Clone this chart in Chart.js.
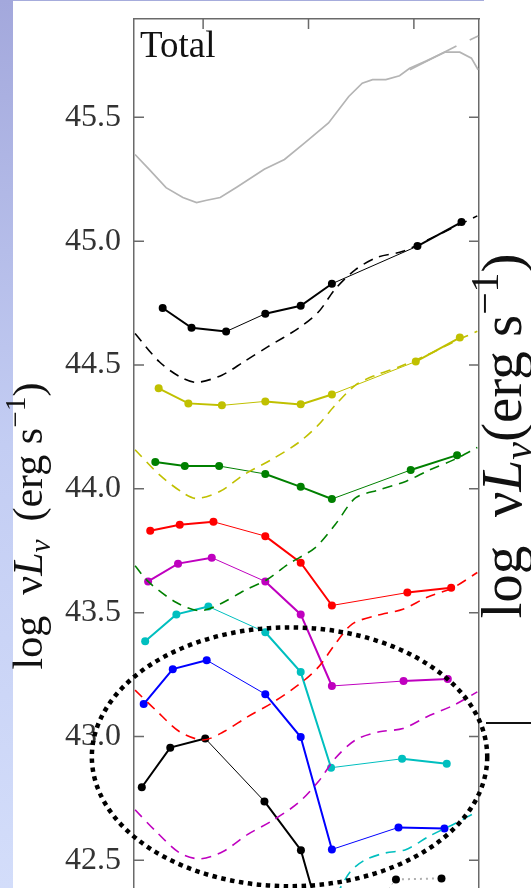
<!DOCTYPE html>
<html>
<head>
<meta charset="utf-8">
<script src="https://cdn.jsdelivr.net/npm/chart.js@4.4.1/dist/chart.umd.min.js"></script>
<style>
  html, body { margin: 0; padding: 0; background: #fff; overflow: hidden; width: 531px; height: 888px; }
  #strip { position: absolute; left: 0; top: 0; width: 13px; height: 888px;
           background: linear-gradient(#a3a8dc, #c3cdf3 50%, #d3ddfa); }
  #topline { position: absolute; left: 13px; top: 0; width: 471px; height: 1px; background: #a6acdc; }
  #sideline { position: absolute; left: 486px; top: 722px; width: 45px; height: 2px; background: #111; }
  canvas { position: absolute; left: 0; top: 0; }
</style>
</head>
<body>
<div id="strip"></div>
<div id="topline"></div>
<div id="sideline"></div>
<canvas id="sedChart" width="531" height="900"></canvas>
<script>
// axis ticks
const xTicks = [14.5, 15.0, 15.5];
const yTicks = [42.5, 43.0, 43.5, 44.0, 44.5, 45.0, 45.5];

// photometric points (solid lines with dots)
const blackTopX = [14.308, 14.445, 14.609, 14.795, 14.963, 15.111, 15.517, 15.726];
const blackTopY = [44.730, 44.650, 44.635, 44.707, 44.739, 44.828, 44.980, 45.077];
const yellowX = [14.289, 14.430, 14.589, 14.795, 14.963, 15.111, 15.509, 15.718];
const yellowY = [44.406, 44.345, 44.337, 44.353, 44.341, 44.381, 44.514, 44.611];
const greenX = [14.273, 14.413, 14.576, 14.795, 14.963, 15.111, 15.485, 15.705];
const greenY = [44.108, 44.092, 44.092, 44.060, 44.008, 43.959, 44.076, 44.136];
const redX = [14.249, 14.389, 14.549, 14.795, 14.963, 15.111, 15.469, 15.677];
const redY = [43.831, 43.855, 43.867, 43.809, 43.702, 43.529, 43.581, 43.601];
const magentaX = [14.239, 14.381, 14.541, 14.795, 14.963, 15.111, 15.451, 15.661];
const magentaY = [43.626, 43.698, 43.722, 43.626, 43.493, 43.204, 43.224, 43.232];
const cyanX = [14.225, 14.373, 14.525, 14.795, 14.963, 15.107, 15.444, 15.656];
const cyanY = [43.385, 43.493, 43.525, 43.421, 43.260, 42.874, 42.910, 42.890];
const blueX = [14.218, 14.356, 14.517, 14.795, 14.963, 15.111, 15.427, 15.645];
const blueY = [43.131, 43.272, 43.308, 43.171, 42.998, 42.544, 42.633, 42.629];
const blackLowX = [14.209, 14.344, 14.510, 14.791, 14.964, 15.111, 15.415, 15.631];
const blackLowY = [42.795, 42.955, 42.992, 42.738, 42.541, 42.100, 42.423, 42.427];

// model curves (dashed)
const modelBlackX = [14.177, 14.292, 14.389, 14.469, 14.589, 14.693, 14.806, 14.950, 15.047, 15.127, 15.223, 15.327, 15.448, 15.624, 15.801];
const modelBlackY = [44.627, 44.513, 44.453, 44.430, 44.459, 44.513, 44.573, 44.647, 44.714, 44.807, 44.885, 44.935, 44.959, 45.029, 45.102];
const modelYellowX = [14.177, 14.292, 14.404, 14.469, 14.581, 14.693, 14.822, 14.950, 15.047, 15.127, 15.223, 15.319, 15.431, 15.560, 15.688, 15.801];
const modelYellowY = [44.158, 44.057, 43.984, 43.961, 43.990, 44.057, 44.117, 44.185, 44.258, 44.338, 44.419, 44.459, 44.493, 44.539, 44.593, 44.636];
const modelGreenX = [14.177, 14.244, 14.373, 14.485, 14.581, 14.693, 14.806, 14.902, 15.031, 15.127, 15.223, 15.336, 15.464, 15.576, 15.688, 15.801];
const modelGreenY = [43.689, 43.622, 43.541, 43.508, 43.535, 43.588, 43.635, 43.695, 43.762, 43.856, 43.963, 43.996, 44.031, 44.077, 44.117, 44.167];
const modelRedX = [14.177, 14.276, 14.389, 14.501, 14.597, 14.710, 14.822, 14.950, 15.047, 15.127, 15.207, 15.319, 15.448, 15.560, 15.688, 15.801];
const modelRedY = [43.187, 43.106, 43.019, 42.986, 43.019, 43.079, 43.133, 43.207, 43.280, 43.374, 43.454, 43.488, 43.514, 43.561, 43.602, 43.662];
const modelMagentaX = [14.177, 14.276, 14.389, 14.485, 14.597, 14.710, 14.822, 14.950, 15.047, 15.127, 15.223, 15.336, 15.448, 15.560, 15.688, 15.801];
const modelMagentaY = [42.704, 42.617, 42.530, 42.506, 42.537, 42.604, 42.657, 42.731, 42.818, 42.912, 42.986, 43.019, 43.032, 43.079, 43.126, 43.180];
const modelCyanX = [14.177, 14.300, 14.480, 14.700, 14.950, 15.050, 15.130, 15.200, 15.271, 15.366, 15.461, 15.572, 15.698, 15.801];
const modelCyanY = [42.200, 42.100, 42.050, 42.100, 42.200, 42.280, 42.360, 42.456, 42.503, 42.530, 42.543, 42.597, 42.650, 42.697];

// grey template curves
const totalX = [14.177, 14.244, 14.324, 14.404, 14.469, 14.517, 14.581, 14.661, 14.790, 14.886, 14.982, 15.095, 15.191, 15.255, 15.304, 15.367, 15.432, 15.480, 15.560, 15.647, 15.718, 15.773, 15.805];
const totalY = [45.350, 45.290, 45.216, 45.176, 45.156, 45.165, 45.176, 45.219, 45.290, 45.330, 45.397, 45.477, 45.584, 45.638, 45.652, 45.652, 45.668, 45.698, 45.728, 45.763, 45.763, 45.739, 45.692];
const total2X = [15.481, 15.702, 15.735, 15.765, 15.805];
const total2Y = [45.692, 45.788, null, 45.812, 45.828];

// dotted ellipse (data units)
const ringCenter = [14.91, 42.918];
const ringRadius = [0.938, 0.5225];

const SERIF = "'Liberation Serif', 'DejaVu Serif', serif";
const FRAME = '#6a6a6a';

function pts(xs, ys) {
    return xs.map((x, i) => ({x: x, y: ys[i]}));
}

function photoSet(xs, ys, color, dotted) {
    return {
        data: pts(xs, ys),
        borderColor: color,
        backgroundColor: color,
        borderWidth: 2,
        pointRadius: 4,
        pointBorderWidth: 0,
        pointBackgroundColor: color,
        tension: 0,
        segment: {
            borderWidth: c => ([2, 5].includes(c.p0DataIndex) ? 1 : 2),
            borderColor: c => (dotted && c.p0DataIndex >= 5 ? '#b0b0b0' : color),
            borderDash: c => (dotted && c.p0DataIndex >= 5 ? [2, 4] : [])
        }
    };
}

function modelSet(xs, ys, color) {
    return {
        data: pts(xs, ys),
        borderColor: color,
        borderWidth: 1.6,
        borderDash: [10, 7],
        pointRadius: 0,
        tension: 0.3
    };
}

function greySet(xs, ys) {
    return {
        data: pts(xs, ys),
        borderColor: '#b4b4b4',
        borderWidth: 1.7,
        pointRadius: 0,
        tension: 0,
        spanGaps: false
    };
}

// rich text for the rotated axis labels
function drawRich(ctx, parts, x, y, size) {
    ctx.save();
    ctx.translate(x, y);
    ctx.rotate(-Math.PI / 2);
    ctx.textBaseline = 'alphabetic';
    ctx.textAlign = 'left';
    ctx.fillStyle = '#111';
    const fontOf = p => `${p.italic ? 'italic ' : ''}${p.small ? size * 0.7 : size}px ${SERIF}`;
    let total = 0;
    parts.forEach(p => { ctx.font = fontOf(p); p.w = ctx.measureText(p.t).width; total += p.w; });
    let cx = -total / 2;
    parts.forEach(p => {
        ctx.font = fontOf(p);
        ctx.fillText(p.t, cx, (p.shift || 0) * size);
        cx += p.w;
    });
    ctx.restore();
}

function labelParts(space) {
    return [
        {t: 'log  ν'},
        {t: 'L', italic: true},
        {t: space ? 'ν ' : 'ν', small: true, italic: true, shift: 0.2},
        {t: space ? ' (erg s' : '(erg s'},
        {t: '−1', small: true, shift: -0.4},
        {t: ')'}
    ];
}

const decorPlugin = {
    id: 'decor',
    afterDraw(chart) {
        const {ctx, chartArea: a, scales: {x, y}} = chart;
        // inward ticks
        ctx.save();
        ctx.strokeStyle = FRAME;
        ctx.lineWidth = 1.5;
        ctx.beginPath();
        yTicks.forEach(v => {
            const py = y.getPixelForValue(v);
            ctx.moveTo(a.left, py); ctx.lineTo(a.left + 10, py);
            ctx.moveTo(a.right, py); ctx.lineTo(a.right - 10, py);
        });
        xTicks.forEach(v => {
            const px = x.getPixelForValue(v);
            ctx.moveTo(px, a.top); ctx.lineTo(px, a.top + 10);
        });
        ctx.stroke();
        ctx.restore();

        // panel name
        ctx.save();
        ctx.fillStyle = '#111';
        ctx.font = `37px ${SERIF}`;
        ctx.textBaseline = 'alphabetic';
        ctx.fillText('Total', a.left + 6, a.top + 38);
        ctx.restore();

        // axis labels
        drawRich(ctx, labelParts(true), 42, 526, 42);
        drawRich(ctx, labelParts(false), 521, 436, 57);

        // dotted ellipse
        const cx = x.getPixelForValue(ringCenter[0]);
        const cy = y.getPixelForValue(ringCenter[1]);
        const rx = x.getPixelForValue(ringCenter[0] + ringRadius[0]) - cx;
        const ry = cy - y.getPixelForValue(ringCenter[1] + ringRadius[1]);
        ctx.save();
        ctx.strokeStyle = '#000';
        ctx.lineWidth = 4.5;
        ctx.setLineDash([4.5, 4.5]);
        ctx.beginPath();
        ctx.ellipse(cx, cy, rx, ry, 0, 0, Math.PI * 2);
        ctx.stroke();
        ctx.restore();
    }
};

const yMin = 42.356, yMax = 45.897;

const config = {
    type: 'line',
    data: {
        datasets: [
            greySet(totalX, totalY),
            greySet(total2X, total2Y),
            modelSet(modelBlackX, modelBlackY, '#000000'),
            modelSet(modelYellowX, modelYellowY, '#c0c000'),
            modelSet(modelGreenX, modelGreenY, '#008000'),
            modelSet(modelRedX, modelRedY, '#ff0000'),
            modelSet(modelMagentaX, modelMagentaY, '#bf00bf'),
            modelSet(modelCyanX, modelCyanY, '#00bfbf'),
            photoSet(blackTopX, blackTopY, '#000000'),
            photoSet(yellowX, yellowY, '#c0c000'),
            photoSet(greenX, greenY, '#008000'),
            photoSet(redX, redY, '#ff0000'),
            photoSet(magentaX, magentaY, '#bf00bf'),
            photoSet(cyanX, cyanY, '#00bfbf'),
            photoSet(blueX, blueY, '#0000ff'),
            photoSet(blackLowX, blackLowY, '#000000', true)
        ]
    },
    options: {
        responsive: false,
        animation: false,
        devicePixelRatio: 1,
        layout: {padding: 0},
        plugins: {legend: {display: false}, tooltip: {enabled: false}},
        scales: {
            x: {
                type: 'linear',
                position: 'top',
                min: 14.172,
                max: 15.809,
                ticks: {display: false},
                grid: {display: false, drawTicks: false},
                border: {display: true, color: FRAME, width: 1.5},
                afterBuildTicks: s => { s.ticks = xTicks.map(v => ({value: v})); },
                afterFit: s => { s.height = 19; s.paddingLeft = 0; s.paddingRight = 0; }
            },
            y: {
                type: 'linear',
                position: 'left',
                min: yMin,
                max: yMax,
                ticks: {
                    color: '#333',
                    padding: 13,
                    font: {family: SERIF, size: 32},
                    callback: v => v.toFixed(1)
                },
                grid: {display: false, drawTicks: false},
                border: {display: true, color: FRAME, width: 1.5},
                afterBuildTicks: s => { s.ticks = yTicks.map(v => ({value: v})); },
                afterFit: s => { s.width = 134; s.paddingTop = 0; s.paddingBottom = 0; }
            },
            y2: {
                type: 'linear',
                position: 'right',
                min: yMin,
                max: yMax,
                ticks: {display: false},
                grid: {display: false, drawTicks: false},
                border: {display: true, color: FRAME, width: 1.5},
                afterFit: s => { s.width = 52; s.paddingTop = 0; s.paddingBottom = 0; }
            }
        }
    },
    plugins: [decorPlugin]
};

const ctx = document.getElementById('sedChart').getContext('2d');
new Chart(ctx, config);
</script>
</body>
</html>
